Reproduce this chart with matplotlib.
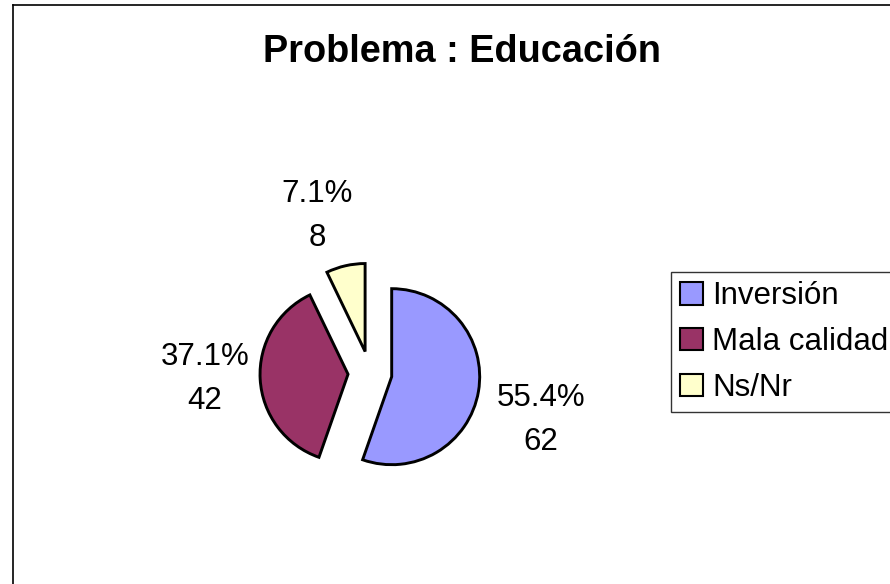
import matplotlib.pyplot as plt
import matplotlib

plt.rcParams['font.family'] = ['Liberation Sans', 'DejaVu Sans']

categories = ["Inversión", "Mala calidad", "Ns/Nr"]
counts = [62, 42, 8]
pct_labels = ["55.4%", "37.1%", "7.1%"]
colors = ['#9999FF', '#993366', '#FFFFCC']

W, H = 890, 584
fig = plt.figure(figsize=(W / 100, H / 100), dpi=100)
ax = fig.add_axes([0, 0, 1, 1])

# pie in pixel-like data units (y up)
cx, cy, r = 370, H - 373, 88
wedges, _ = ax.pie(counts, colors=colors, startangle=90, counterclock=False,
                   center=(cx, cy), radius=r, explode=[22, 22, 22],
                   wedgeprops=dict(edgecolor='black', linewidth=2.1))
ax.set_xlim(0, W)
ax.set_ylim(0, H)
ax.set_aspect('auto')
ax.axis('off')

# value labels
label_pos = [(541, H - 420), (205, H - 379), (317, H - 216)]
for (x, y), p, n in zip(label_pos, pct_labels, counts):
    ax.text(x, y, "{}\n{}".format(p, n), ha='center', va='center',
            fontsize=22.5, linespacing=1.62)

ax.text(462, H - 52, "Problema : Educación", ha='center', va='center',
        fontsize=27.3, fontweight='bold')

# outer frame (left and top only visible)
ax.plot([12.5, 12.5], [0, H - 5], color='black', lw=1.2, clip_on=False)
ax.plot([12.5, W], [H - 5, H - 5], color='black', lw=1.2, clip_on=False)

leg = ax.legend(wedges, categories, loc='upper left',
                bbox_to_anchor=(671 / W, 1 - 272 / H), fontsize=22.5,
                frameon=True, fancybox=False, edgecolor='black',
                handlelength=0.72, handleheight=0.72, handletextpad=0.3,
                labelspacing=0.5, borderpad=0.3, borderaxespad=0)
leg.get_frame().set_linewidth(1.0)
for h in leg.legend_handles:
    h.set_linewidth(1.5)

fig.savefig("out.png", dpi=100)
